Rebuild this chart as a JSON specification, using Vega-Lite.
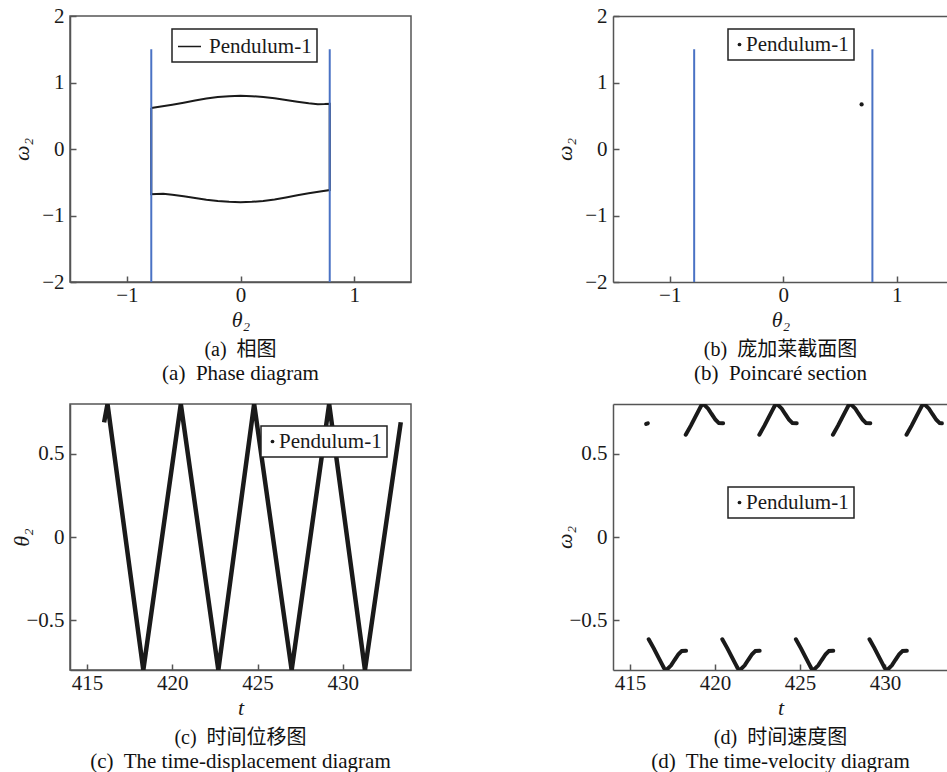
{
  "$schema": "https://vega.github.io/schema/vega-lite/v6.json",
  "background": "white",
  "padding": {"left": 9, "top": 4, "right": 0, "bottom": 0},
  "columns": 2,
  "spacing": {"row": 122, "column": 202},
  "bounds": "flush",
  "resolve": {"scale": {"color": "independent"}, "legend": {"color": "independent"}},
  "datasets": {
    "walls": [
      {"theta": -0.785, "omega": -2, "omega2": 1.5},
      {"theta": 0.785, "omega": -2, "omega2": 1.5}
    ],
    "phase": [
      {"i": 0, "theta": -0.785, "omega": 0.617},
      {"i": 1, "theta": -0.7, "omega": 0.638},
      {"i": 2, "theta": -0.6, "omega": 0.665},
      {"i": 3, "theta": -0.5, "omega": 0.695},
      {"i": 4, "theta": -0.4, "omega": 0.728},
      {"i": 5, "theta": -0.3, "omega": 0.758},
      {"i": 6, "theta": -0.2, "omega": 0.781},
      {"i": 7, "theta": -0.1, "omega": 0.795},
      {"i": 8, "theta": 0, "omega": 0.8},
      {"i": 9, "theta": 0.1, "omega": 0.795},
      {"i": 10, "theta": 0.2, "omega": 0.782},
      {"i": 11, "theta": 0.3, "omega": 0.762},
      {"i": 12, "theta": 0.4, "omega": 0.738},
      {"i": 13, "theta": 0.5, "omega": 0.712},
      {"i": 14, "theta": 0.6, "omega": 0.688},
      {"i": 15, "theta": 0.68, "omega": 0.674},
      {"i": 16, "theta": 0.74, "omega": 0.676},
      {"i": 17, "theta": 0.785, "omega": 0.68},
      {"i": 18, "theta": 0.785, "omega": -0.617},
      {"i": 19, "theta": 0.7, "omega": -0.638},
      {"i": 20, "theta": 0.6, "omega": -0.665},
      {"i": 21, "theta": 0.5, "omega": -0.695},
      {"i": 22, "theta": 0.4, "omega": -0.728},
      {"i": 23, "theta": 0.3, "omega": -0.758},
      {"i": 24, "theta": 0.2, "omega": -0.781},
      {"i": 25, "theta": 0.1, "omega": -0.795},
      {"i": 26, "theta": 0, "omega": -0.8},
      {"i": 27, "theta": -0.1, "omega": -0.795},
      {"i": 28, "theta": -0.2, "omega": -0.782},
      {"i": 29, "theta": -0.3, "omega": -0.762},
      {"i": 30, "theta": -0.4, "omega": -0.738},
      {"i": 31, "theta": -0.5, "omega": -0.712},
      {"i": 32, "theta": -0.6, "omega": -0.688},
      {"i": 33, "theta": -0.68, "omega": -0.674},
      {"i": 34, "theta": -0.74, "omega": -0.676},
      {"i": 35, "theta": -0.785, "omega": -0.68},
      {"i": 36, "theta": -0.785, "omega": 0.617}
    ],
    "poincare": [
      {"theta": 0.69, "omega": 0.67}
    ],
    "disp": [
      {"t": 416.0, "theta": 0.69},
      {"t": 416.2, "theta": 0.8},
      {"t": 418.3, "theta": -0.8},
      {"t": 420.5, "theta": 0.8},
      {"t": 422.7, "theta": -0.8},
      {"t": 424.8, "theta": 0.8},
      {"t": 427.0, "theta": -0.8},
      {"t": 429.2, "theta": 0.8},
      {"t": 431.3, "theta": -0.8},
      {"t": 433.4, "theta": 0.69}
    ],
    "velLow": [
      {"s": "B0", "t": 416.10, "w": -0.615}, {"s": "B0", "t": 416.40, "w": -0.67}, {"s": "B0", "t": 416.65, "w": -0.72}, {"s": "B0", "t": 416.88, "w": -0.765}, {"s": "B0", "t": 417.00, "w": -0.788}, {"s": "B0", "t": 417.10, "w": -0.8}, {"s": "B0", "t": 417.22, "w": -0.792}, {"s": "B0", "t": 417.42, "w": -0.772}, {"s": "B0", "t": 417.62, "w": -0.74}, {"s": "B0", "t": 417.85, "w": -0.705}, {"s": "B0", "t": 418.05, "w": -0.685}, {"s": "B0", "t": 418.30, "w": -0.684},
      {"s": "B1", "t": 420.43, "w": -0.615}, {"s": "B1", "t": 420.73, "w": -0.67}, {"s": "B1", "t": 420.98, "w": -0.72}, {"s": "B1", "t": 421.21, "w": -0.765}, {"s": "B1", "t": 421.33, "w": -0.788}, {"s": "B1", "t": 421.43, "w": -0.8}, {"s": "B1", "t": 421.55, "w": -0.792}, {"s": "B1", "t": 421.75, "w": -0.772}, {"s": "B1", "t": 421.95, "w": -0.74}, {"s": "B1", "t": 422.18, "w": -0.705}, {"s": "B1", "t": 422.38, "w": -0.685}, {"s": "B1", "t": 422.63, "w": -0.684},
      {"s": "B2", "t": 424.76, "w": -0.615}, {"s": "B2", "t": 425.06, "w": -0.67}, {"s": "B2", "t": 425.31, "w": -0.72}, {"s": "B2", "t": 425.54, "w": -0.765}, {"s": "B2", "t": 425.66, "w": -0.788}, {"s": "B2", "t": 425.76, "w": -0.8}, {"s": "B2", "t": 425.88, "w": -0.792}, {"s": "B2", "t": 426.08, "w": -0.772}, {"s": "B2", "t": 426.28, "w": -0.74}, {"s": "B2", "t": 426.51, "w": -0.705}, {"s": "B2", "t": 426.71, "w": -0.685}, {"s": "B2", "t": 426.96, "w": -0.684},
      {"s": "B3", "t": 429.09, "w": -0.615}, {"s": "B3", "t": 429.39, "w": -0.67}, {"s": "B3", "t": 429.64, "w": -0.72}, {"s": "B3", "t": 429.87, "w": -0.765}, {"s": "B3", "t": 429.99, "w": -0.788}, {"s": "B3", "t": 430.09, "w": -0.8}, {"s": "B3", "t": 430.21, "w": -0.792}, {"s": "B3", "t": 430.41, "w": -0.772}, {"s": "B3", "t": 430.61, "w": -0.74}, {"s": "B3", "t": 430.84, "w": -0.705}, {"s": "B3", "t": 431.04, "w": -0.685}, {"s": "B3", "t": 431.29, "w": -0.684}
    ],
    "velHigh": [
      {"s": "D", "t": 415.95, "w": 0.68}, {"s": "D", "t": 416.05, "w": 0.684},
      {"s": "T0", "t": 418.28, "w": 0.615}, {"s": "T0", "t": 418.58, "w": 0.67}, {"s": "T0", "t": 418.83, "w": 0.72}, {"s": "T0", "t": 419.06, "w": 0.765}, {"s": "T0", "t": 419.18, "w": 0.788}, {"s": "T0", "t": 419.28, "w": 0.8}, {"s": "T0", "t": 419.40, "w": 0.792}, {"s": "T0", "t": 419.60, "w": 0.772}, {"s": "T0", "t": 419.80, "w": 0.74}, {"s": "T0", "t": 420.03, "w": 0.705}, {"s": "T0", "t": 420.23, "w": 0.685}, {"s": "T0", "t": 420.48, "w": 0.684},
      {"s": "T1", "t": 422.61, "w": 0.615}, {"s": "T1", "t": 422.91, "w": 0.67}, {"s": "T1", "t": 423.16, "w": 0.72}, {"s": "T1", "t": 423.39, "w": 0.765}, {"s": "T1", "t": 423.51, "w": 0.788}, {"s": "T1", "t": 423.61, "w": 0.8}, {"s": "T1", "t": 423.73, "w": 0.792}, {"s": "T1", "t": 423.93, "w": 0.772}, {"s": "T1", "t": 424.13, "w": 0.74}, {"s": "T1", "t": 424.36, "w": 0.705}, {"s": "T1", "t": 424.56, "w": 0.685}, {"s": "T1", "t": 424.81, "w": 0.684},
      {"s": "T2", "t": 426.94, "w": 0.615}, {"s": "T2", "t": 427.24, "w": 0.67}, {"s": "T2", "t": 427.49, "w": 0.72}, {"s": "T2", "t": 427.72, "w": 0.765}, {"s": "T2", "t": 427.84, "w": 0.788}, {"s": "T2", "t": 427.94, "w": 0.8}, {"s": "T2", "t": 428.06, "w": 0.792}, {"s": "T2", "t": 428.26, "w": 0.772}, {"s": "T2", "t": 428.46, "w": 0.74}, {"s": "T2", "t": 428.69, "w": 0.705}, {"s": "T2", "t": 428.89, "w": 0.685}, {"s": "T2", "t": 429.14, "w": 0.684},
      {"s": "T3", "t": 431.27, "w": 0.615}, {"s": "T3", "t": 431.57, "w": 0.67}, {"s": "T3", "t": 431.82, "w": 0.72}, {"s": "T3", "t": 432.05, "w": 0.765}, {"s": "T3", "t": 432.17, "w": 0.788}, {"s": "T3", "t": 432.27, "w": 0.8}, {"s": "T3", "t": 432.39, "w": 0.792}, {"s": "T3", "t": 432.59, "w": 0.772}, {"s": "T3", "t": 432.79, "w": 0.74}, {"s": "T3", "t": 433.02, "w": 0.705}, {"s": "T3", "t": 433.22, "w": 0.685}, {"s": "T3", "t": 433.35, "w": 0.684}
    ]
  },
  "concat": [
    {
      "width": 341,
      "height": 266,
      "title": {"text": "(a)\u00a0 相图", "subtitle": "(a)\u00a0 Phase diagram"},
      "encoding": {
        "x": {"field": "theta", "type": "quantitative", "scale": {"domain": [-1.5, 1.5], "nice": false, "zero": false}, "axis": {"values": [-1, 0, 1], "format": "~g", "title": "θ₂"}},
        "y": {"field": "omega", "type": "quantitative", "scale": {"domain": [-2, 2], "nice": false, "zero": false}, "axis": {"values": [-2, -1, 0, 1, 2], "format": "~g", "title": "ω₂"}}
      },
      "layer": [
        {
          "data": {"name": "phase"},
          "mark": {"type": "line", "strokeWidth": 2, "clip": true},
          "encoding": {
            "order": {"field": "i", "type": "quantitative"},
            "color": {"datum": "Pendulum-1", "type": "nominal", "scale": {"range": ["#1a1a1a"]},
              "legend": {"title": null, "legendX": 102, "legendY": 13, "symbolType": "stroke", "symbolSize": 529, "symbolStrokeWidth": 1.5, "labelOffset": 7}}
          }
        },
        {
          "data": {"name": "walls"},
          "mark": {"type": "rule", "color": "#4a72c4", "strokeWidth": 2},
          "encoding": {"y2": {"field": "omega2"}}
        }
      ]
    },
    {
      "width": 335,
      "height": 266,
      "view": {"stroke": null},
      "title": {"text": "(b)\u00a0 庞加莱截面图", "subtitle": "(b)\u00a0 Poincaré section"},
      "resolve": {"axis": {"x": "independent"}},
      "layer": [
        {
          "data": {"name": "poincare"},
          "mark": {"type": "point", "filled": true, "size": 18, "opacity": 1},
          "encoding": {
            "x": {"field": "theta", "type": "quantitative", "scale": {"domain": [-1.5, 1.451], "nice": false, "zero": false}, "axis": {"values": [-1, 0, 1], "format": "~g", "title": "θ₂"}},
            "y": {"field": "omega", "type": "quantitative", "scale": {"domain": [-2, 2], "nice": false, "zero": false}, "axis": {"values": [-2, -1, 0, 1, 2], "format": "~g", "title": "ω₂"}},
            "color": {"datum": "Pendulum-1", "type": "nominal", "scale": {"range": ["#1a1a1a"]},
              "legend": {"title": null, "legendX": 115, "legendY": 13, "symbolType": "circle", "symbolSize": 14, "symbolOffset": -4, "labelOffset": -4}}
          }
        },
        {
          "data": {"name": "walls"},
          "mark": {"type": "rule", "color": "#4a72c4", "strokeWidth": 2},
          "encoding": {
            "x": {"field": "theta", "type": "quantitative", "scale": {"domain": [-1.5, 1.451], "nice": false, "zero": false}, "axis": {"orient": "top", "labels": false, "ticks": false, "title": null, "domain": true}},
            "y": {"field": "omega", "type": "quantitative", "scale": {"domain": [-2, 2], "nice": false, "zero": false}, "axis": {"values": [-2, -1, 0, 1, 2], "format": "~g", "title": "ω₂"}},
            "y2": {"field": "omega2"}
          }
        }
      ]
    },
    {
      "width": 341,
      "height": 266,
      "title": {"text": "(c)\u00a0 时间位移图", "subtitle": "(c)\u00a0 The time-displacement diagram"},
      "data": {"name": "disp"},
      "mark": {"type": "line", "strokeWidth": 4.5, "clip": true},
      "encoding": {
        "x": {"field": "t", "type": "quantitative", "scale": {"domain": [414, 434], "nice": false, "zero": false}, "axis": {"values": [415, 420, 425, 430], "format": "~g", "title": "t"}},
        "y": {"field": "theta", "type": "quantitative", "scale": {"domain": [-0.8, 0.8], "nice": false, "zero": false}, "axis": {"values": [-0.5, 0, 0.5], "format": "~g", "title": "θ₂"}},
        "color": {"datum": "Pendulum-1", "type": "nominal", "scale": {"range": ["#1a1a1a"]},
          "legend": {"title": null, "legendX": 191, "legendY": 22, "symbolType": "circle", "symbolSize": 14, "symbolOffset": -4, "labelOffset": -4,
            "encode": {"symbols": {"update": {"fill": {"value": "#1a1a1a"}, "stroke": {"value": "#1a1a1a"}, "strokeWidth": {"value": 0}}}}}}
      }
    },
    {
      "width": 335,
      "height": 266,
      "view": {"stroke": null},
      "title": {"text": "(d)\u00a0 时间速度图", "subtitle": "(d)\u00a0 The time-velocity diagram"},
      "resolve": {"axis": {"x": "independent"}},
      "layer": [
        {
          "data": {"name": "velLow"},
          "mark": {"type": "line", "strokeWidth": 4, "clip": true, "strokeCap": "round"},
          "encoding": {
            "x": {"field": "t", "type": "quantitative", "scale": {"domain": [414, 433.71], "nice": false, "zero": false}, "axis": {"values": [415, 420, 425, 430], "format": "~g", "title": "t"}},
            "y": {"field": "w", "type": "quantitative", "scale": {"domain": [-0.8, 0.8], "nice": false, "zero": false}, "axis": {"values": [-0.5, 0, 0.5], "format": "~g", "title": "ω₂"}},
            "detail": {"field": "s", "type": "nominal"},
            "color": {"datum": "Pendulum-1", "type": "nominal", "scale": {"range": ["#1a1a1a"]},
              "legend": {"title": null, "legendX": 115, "legendY": 83, "symbolType": "circle", "symbolSize": 14, "symbolOffset": -4, "labelOffset": -4,
                "encode": {"symbols": {"update": {"fill": {"value": "#1a1a1a"}, "stroke": {"value": "#1a1a1a"}, "strokeWidth": {"value": 0}}}}}}
          }
        },
        {
          "data": {"name": "velHigh"},
          "mark": {"type": "line", "strokeWidth": 4, "clip": true, "strokeCap": "round", "color": "#1a1a1a"},
          "encoding": {
            "x": {"field": "t", "type": "quantitative", "scale": {"domain": [414, 433.71], "nice": false, "zero": false}, "axis": {"orient": "top", "labels": false, "ticks": false, "title": null, "domain": true}},
            "y": {"field": "w", "type": "quantitative", "scale": {"domain": [-0.8, 0.8], "nice": false, "zero": false}, "axis": {"values": [-0.5, 0, 0.5], "format": "~g", "title": "ω₂"}},
            "detail": {"field": "s", "type": "nominal"}
          }
        }
      ]
    }
  ],
  "config": {
    "view": {"stroke": "#555555", "strokeWidth": 1.5},
    "font": "Times New Roman",
    "axis": {
      "grid": false,
      "labelFont": "Times New Roman",
      "labelFontSize": 21,
      "labelColor": "#1a1a1a",
      "domainColor": "#555555",
      "domainWidth": 1.5,
      "tickColor": "#555555",
      "tickWidth": 1.5,
      "tickSize": -6,
      "titleFont": "Times New Roman",
      "titleFontSize": 22,
      "titleFontStyle": "italic",
      "titleFontWeight": "normal",
      "titleColor": "#1a1a1a"
    },
    "axisX": {"labelPadding": 8, "titleY": 37, "titleBaseline": "middle", "titleAlign": "center"},
    "axisY": {"labelPadding": 12, "titleX": -49, "titleY": 133, "titleBaseline": "middle", "titleAlign": "center", "titleAngle": -90},
    "legend": {
      "orient": "none",
      "labelFont": "Times New Roman",
      "labelFontSize": 21,
      "labelColor": "#1a1a1a",
      "strokeColor": "#222222",
      "strokeWidth": 1.5,
      "fillColor": "white",
      "padding": 5
    },
    "title": {
      "orient": "bottom",
      "anchor": "middle",
      "frame": "group",
      "font": "Times New Roman, Noto Sans CJK SC",
      "fontSize": 20,
      "fontWeight": "normal",
      "color": "#111111",
      "subtitleFont": "Times New Roman",
      "subtitleFontSize": 21,
      "subtitleColor": "#111111",
      "subtitlePadding": 3,
      "offset": 10
    }
  }
}
